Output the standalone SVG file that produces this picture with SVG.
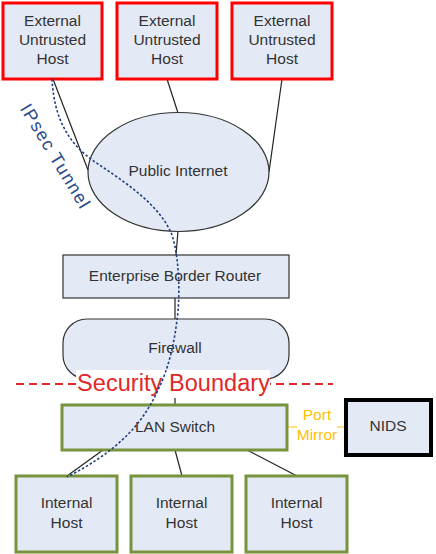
<svg xmlns="http://www.w3.org/2000/svg" width="436" height="554" viewBox="0 0 436 554">
<style>
.t{font-family:"Liberation Sans",Arial,sans-serif;font-size:15.5px;fill:#333;text-anchor:middle}
.ext{fill:#E4EAF5;stroke:#FF0000;stroke-width:3}
.int{fill:#E4EAF5;stroke:#77933C;stroke-width:3}
.plain{fill:#E4EAF5;stroke:#333;stroke-width:1.2}
.c{stroke:#222;stroke-width:1.2;fill:none}
</style>
<rect width="436" height="554" fill="#fff"/>
<g id="connectors">
<line class="c" x1="53" y1="79" x2="88" y2="170"/>
<line class="c" x1="167" y1="79" x2="178" y2="113"/>
<line class="c" x1="282" y1="79" x2="269" y2="172"/>
<line class="c" x1="178" y1="231" x2="176" y2="255"/>
<line class="c" x1="175" y1="298" x2="175" y2="319"/>
<line class="c" x1="175" y1="378" x2="175" y2="405"/>
<line class="c" x1="103" y1="450" x2="67" y2="476"/>
<line class="c" x1="175" y1="450" x2="182" y2="476"/>
<line class="c" x1="247" y1="450" x2="297" y2="476"/>
<line x1="288" y1="427" x2="344" y2="427" stroke="#FFC000" stroke-width="1.2"/>
</g>
<g id="ext1"><rect class="ext" x="3" y="3" width="99" height="76"/><text class="t" x="52.5" y="26">External</text><text class="t" x="52.5" y="45">Untrusted</text><text class="t" x="52.5" y="64">Host</text></g>
<g id="ext2"><rect class="ext" x="117" y="3" width="100" height="76"/><text class="t" x="167" y="26">External</text><text class="t" x="167" y="45">Untrusted</text><text class="t" x="167" y="64">Host</text></g>
<g id="ext3"><rect class="ext" x="232" y="3" width="100" height="76"/><text class="t" x="282" y="26">External</text><text class="t" x="282" y="45">Untrusted</text><text class="t" x="282" y="64">Host</text></g>
<g id="internet"><ellipse class="plain" cx="178.5" cy="172" rx="90.5" ry="59.5"/><text class="t" x="178" y="176">Public Internet</text></g>
<g id="router"><rect class="plain" x="63" y="255" width="226" height="43"/><text class="t" x="175" y="281">Enterprise Border Router</text></g>
<g id="firewall"><rect class="plain" x="63" y="319" width="226" height="60" rx="24" ry="24"/><text class="t" x="175" y="353">Firewall</text></g>
<g id="boundary">
<line x1="16" y1="384" x2="333" y2="384" stroke="#E02828" stroke-width="2" stroke-dasharray="8,5"/>
<rect x="76" y="370" width="194" height="28" fill="#fff"/>
<text x="173.5" y="391" font-family="Liberation Sans,Arial,sans-serif" font-size="23.5" fill="#E02828" text-anchor="middle" textLength="193">Security Boundary</text>
</g>
<g id="switch"><rect class="int" x="62" y="405" width="225" height="45"/><text class="t" x="175" y="432">LAN Switch</text></g>
<g id="portmirror"><rect x="297" y="407" width="40" height="36" fill="#fff"/><text class="t" x="317" y="420" style="fill:#FFC000">Port</text><text class="t" x="317" y="440" style="fill:#FFC000">Mirror</text></g>
<g id="nids"><rect x="346" y="400" width="85" height="55" fill="#E4EAF5" stroke="#000" stroke-width="4"/><text class="t" x="388" y="431">NIDS</text></g>
<g id="int1"><rect class="int" x="16" y="476" width="101" height="76"/><text class="t" x="66.5" y="508">Internal</text><text class="t" x="66.5" y="528">Host</text></g>
<g id="int2"><rect class="int" x="131" y="476" width="101" height="76"/><text class="t" x="181.5" y="508">Internal</text><text class="t" x="181.5" y="528">Host</text></g>
<g id="int3"><rect class="int" x="246" y="476" width="101" height="76"/><text class="t" x="296.5" y="508">Internal</text><text class="t" x="296.5" y="528">Host</text></g>
<g id="tunnel">
<path d="M52,79 C54,120 70,145 95,162 C125,182 160,205 172,235 C180,260 180,300 177,320 C174,345 168,370 158,390 C140,430 110,455 67,477" fill="none" stroke="#1F3F80" stroke-width="1.6" stroke-dasharray="2.5,2"/>
<text x="50" y="159" transform="rotate(59 50 159)" font-family="Liberation Sans,Arial,sans-serif" font-size="18" fill="#2A4A8A" text-anchor="middle" textLength="118">IPsec Tunnel</text>
</g>
</svg>
